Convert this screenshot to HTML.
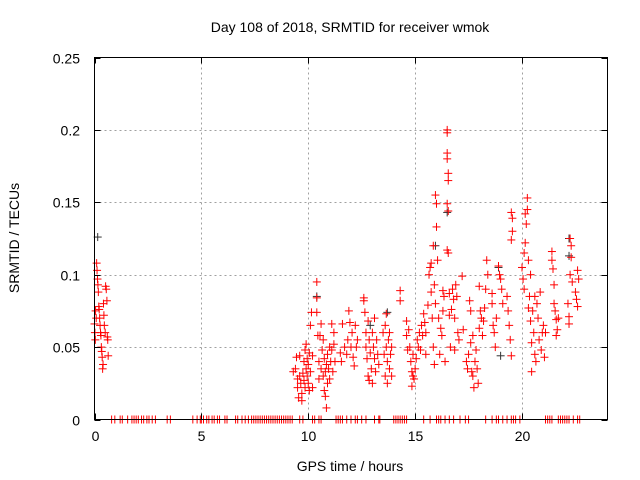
<!DOCTYPE html>
<html><head><meta charset="utf-8"><style>
body{margin:0;background:#fff;}
svg{display:block;font-family:"Liberation Sans",sans-serif;}
</style></head><body>
<svg id="chart" width="640" height="480" viewBox="0 0 640 480">
<text x="350" y="32" font-size="14" text-anchor="middle" fill="#000">Day 108 of 2018, SRMTID for receiver wmok</text>
<text transform="translate(19,238) rotate(-90)" font-size="14" text-anchor="middle" fill="#000">SRMTID / TECUs</text>
<text x="350" y="471" font-size="14" text-anchor="middle" fill="#000">GPS time / hours</text>
<g id="grid"></g>
<g id="marks"></g>
<rect x="94.5" y="57.5" width="513" height="362" fill="none" stroke="#000" stroke-width="1"/>
<g id="ticks"></g>
</svg>
<script>
const xTicks=[0,5,10,15,20];
const yTicks=[0,0.05,0.1,0.15,0.2,0.25];
const yTickLabels=["0","0.05","0.1","0.15","0.2","0.25"];
const zeroHours=[0.8,0.95,1.2,1.3,1.55,1.75,1.85,1.95,2.05,2.2,2.3,2.45,2.55,2.7,2.85,3.4,3.55,4.6,4.8,4.95,5.0,5.1,5.25,5.35,5.5,5.6,5.75,5.85,6.1,6.2,6.6,6.7,6.9,7.05,7.2,7.35,7.45,7.55,7.65,7.75,7.85,7.95,8.05,8.15,8.25,8.35,8.45,8.55,8.65,8.75,8.85,8.95,9.05,9.15,9.25,9.6,9.75,10.2,10.3,10.5,10.6,11.3,11.4,11.5,11.6,11.8,12.0,12.2,12.3,12.5,12.7,13.1,13.3,13.35,14.0,14.1,14.2,14.3,14.4,14.5,14.6,15.4,15.7,16.0,16.1,16.2,16.4,16.6,16.8,17.1,17.35,17.5,18.3,18.6,18.8,18.9,19.1,19.3,19.5,19.6,19.7,19.9,21.1,21.2,21.3,21.4,21.7,21.8,21.9,22.0,22.1,22.2,22.4,22.6,22.7];
const redHours=[0.0,0.02,0.04,0.05,0.08,0.1,0.12,0.14,0.16,0.18,0.2,0.22,0.24,0.26,0.28,0.3,0.32,0.34,0.36,0.38,0.4,0.42,0.44,0.46,0.5,0.52,0.55,0.58,0.6,0.62,0.64,
9.3,9.4,9.45,9.5,9.5,9.55,9.6,9.6,9.65,9.7,9.7,9.75,9.8,9.8,9.85,9.85,9.9,9.9,9.95,9.95,10.0,10.0,10.05,10.05,10.1,10.1,10.15,10.2,10.2,
10.4,10.4,10.4,10.45,10.5,10.5,10.55,10.6,10.6,10.65,10.7,10.7,10.75,10.75,10.8,10.8,10.85,10.85,10.9,10.9,10.95,11.0,11.0,11.05,11.1,11.1,11.15,11.2,11.2,11.25,
11.5,11.55,11.6,11.7,11.8,11.85,11.9,11.95,12.0,12.05,12.1,12.15,12.2,12.25,12.3,
12.6,12.6,12.65,12.7,12.7,12.75,12.8,12.8,12.85,12.85,12.9,12.95,13.0,13.0,13.05,13.1,13.1,13.15,13.2,13.25,13.3,
13.5,13.55,13.6,13.6,13.65,13.65,13.7,13.7,13.75,13.8,13.8,13.85,13.9,13.9,14.3,14.3,
14.6,14.6,14.65,14.7,14.75,14.8,14.85,14.85,14.9,14.9,14.95,15.0,15.05,15.1,15.15,15.2,15.25,15.3,15.35,15.4,15.45,15.5,15.5,
15.6,15.65,15.7,15.75,15.75,15.8,15.85,15.85,15.9,15.9,15.95,15.95,16.0,16.0,16.05,16.1,16.15,16.2,16.25,16.3,16.3,16.35,16.4,
16.5,16.5,16.5,16.5,16.55,16.55,16.5,16.55,16.5,16.55,16.6,16.6,16.65,16.7,16.75,16.8,16.85,16.85,16.9,16.95,17.0,17.05,17.2,17.25,
17.4,17.45,17.5,17.55,17.6,17.6,17.65,17.7,17.7,17.75,17.8,17.85,17.9,17.95,18.0,18.0,18.05,18.1,18.15,18.2,18.25,18.3,18.35,18.4,
18.6,18.6,18.65,18.7,18.75,18.8,18.9,18.95,19.0,19.05,19.1,
19.3,19.35,19.4,19.45,19.5,19.5,19.55,19.55,19.5,
20.0,20.05,20.1,20.1,20.15,20.15,20.2,20.25,20.25,20.3,20.3,20.35,20.4,20.4,20.45,20.45,20.5,20.55,20.6,20.6,20.65,20.7,20.75,20.8,20.85,20.9,20.95,21.0,21.05,21.1,
21.4,21.4,21.45,21.5,21.5,21.55,21.6,21.65,21.6,21.7,
22.15,22.2,22.2,22.25,22.25,22.3,22.3,22.35,22.5,22.55,22.6,22.6,22.65];
const redValues=[0.066,0.06,0.055,0.075,0.07,0.108,0.103,0.097,0.093,0.088,0.078,0.076,0.07,0.065,0.06,0.058,0.05,0.047,0.043,0.035,0.038,0.08,0.072,0.065,0.06,0.092,0.09,0.082,0.057,0.055,0.044,
0.033,0.035,0.043,0.028,0.022,0.015,0.03,0.044,0.025,0.018,0.013,0.032,0.027,0.04,0.022,0.048,0.035,0.052,0.03,0.042,0.025,0.038,0.046,0.02,0.033,0.065,0.074,0.044,0.022,
0.095,0.084,0.074,0.058,0.04,0.028,0.058,0.035,0.066,0.048,0.03,0.055,0.02,0.042,0.016,0.033,0.038,0.008,0.025,0.045,0.035,0.05,0.028,0.04,0.066,0.048,0.033,0.06,0.052,0.04,
0.046,0.04,0.066,0.05,0.045,0.055,0.075,0.067,0.05,0.06,0.043,0.037,0.065,0.05,0.055,
0.084,0.082,0.074,0.06,0.05,0.042,0.068,0.03,0.055,0.027,0.046,0.035,0.06,0.025,0.05,0.07,0.042,0.033,0.055,0.045,0.038,
0.06,0.045,0.065,0.03,0.073,0.05,0.04,0.025,0.055,0.035,0.06,0.045,0.03,0.05,0.089,0.082,
0.068,0.058,0.048,0.062,0.05,0.04,0.033,0.023,0.03,0.045,0.028,0.035,0.042,0.055,0.05,0.06,0.048,0.065,0.058,0.073,0.067,0.045,0.06,
0.079,0.1,0.105,0.088,0.108,0.07,0.12,0.05,0.093,0.038,0.08,0.155,0.149,0.133,0.11,0.07,0.045,0.063,0.058,0.089,0.075,0.085,0.04,
0.2,0.198,0.184,0.18,0.17,0.165,0.149,0.144,0.117,0.115,0.087,0.072,0.05,0.076,0.09,0.083,0.07,0.048,0.093,0.085,0.06,0.055,0.099,0.062,
0.04,0.035,0.045,0.082,0.075,0.053,0.033,0.058,0.03,0.022,0.04,0.048,0.035,0.025,0.063,0.092,0.075,0.07,0.058,0.068,0.077,0.09,0.11,0.1,
0.087,0.08,0.065,0.06,0.05,0.07,0.106,0.1,0.097,0.09,0.08,
0.085,0.075,0.065,0.055,0.124,0.143,0.139,0.13,0.044,
0.105,0.097,0.09,0.115,0.122,0.142,0.135,0.153,0.145,0.11,0.077,0.085,0.1,0.068,0.053,0.033,0.075,0.06,0.085,0.045,0.04,0.08,0.07,0.055,0.088,0.048,0.06,0.065,0.043,0.06,
0.116,0.11,0.104,0.093,0.08,0.075,0.069,0.062,0.058,0.07,
0.08,0.071,0.066,0.1,0.125,0.12,0.112,0.095,0.088,0.083,0.078,0.103,0.097];
const blackHours=[0.15,10.4,13.7,15.95,16.5,18.9,19.0,22.2,22.2,12.9];
const blackValues=[0.126,0.085,0.074,0.12,0.143,0.105,0.044,0.125,0.113,0.065];

const NS='http://www.w3.org/2000/svg';
const L=94.5,R=607.5,T=57.5,B=419.5;
const xs=h=>L+(h/24)*(R-L);
const ys=v=>B-(v/0.25)*(B-T);
const grid=document.getElementById('grid'),ticks=document.getElementById('ticks'),marks=document.getElementById('marks');
function ln(p,x1,y1,x2,y2,st,dash){const l=document.createElementNS(NS,'line');l.setAttribute('x1',x1);l.setAttribute('y1',y1);l.setAttribute('x2',x2);l.setAttribute('y2',y2);l.setAttribute('stroke',st);l.setAttribute('stroke-width',1);if(dash)l.setAttribute('stroke-dasharray',dash);p.appendChild(l);return l;}
function tx(x,y,s,anchor){const t=document.createElementNS(NS,'text');t.setAttribute('x',x);t.setAttribute('y',y);t.setAttribute('font-size',14);t.setAttribute('text-anchor',anchor);t.textContent=s;ticks.appendChild(t);return t;}
xTicks.forEach(h=>{const x=Math.round(xs(h))+0.5;
 if(h>0){const g=ln(grid,x,T,x,B,'#a0a0a0','2,3');}
 ln(ticks,x,B,x,B-6,'#000');ln(ticks,x,T,x,T+6,'#000');
 const t=tx(x,441,String(h),'middle');
 
 });
yTicks.forEach((v,i)=>{const y=Math.round(ys(v))+0.5;
 if(v>0&&v<0.25){const g=ln(grid,L,y,R,y,'#a0a0a0','2,3');}
 ln(ticks,L,y,L+6,y,'#000');ln(ticks,R,y,R-6,y,'#000');
 const t=tx(80,y+5,yTickLabels[i],'end');
 
 });
function plus(h,v,col,name){const g=document.createElementNS(NS,'g');
 
 
 const x=xs(h),y=ys(v);ln(g,x-4,y,x+4,y,col);ln(g,x,y-4,x,y+4,col);marks.appendChild(g);}
blackHours.forEach((h,i)=>plus(h,blackValues[i],'#333','black-point'));
redHours.forEach((h,i)=>plus(h,redValues[i],'#ff0000','red-point'));
zeroHours.forEach(h=>plus(h,0,'#ff0000','zero-point'));
</script>
</body></html>
